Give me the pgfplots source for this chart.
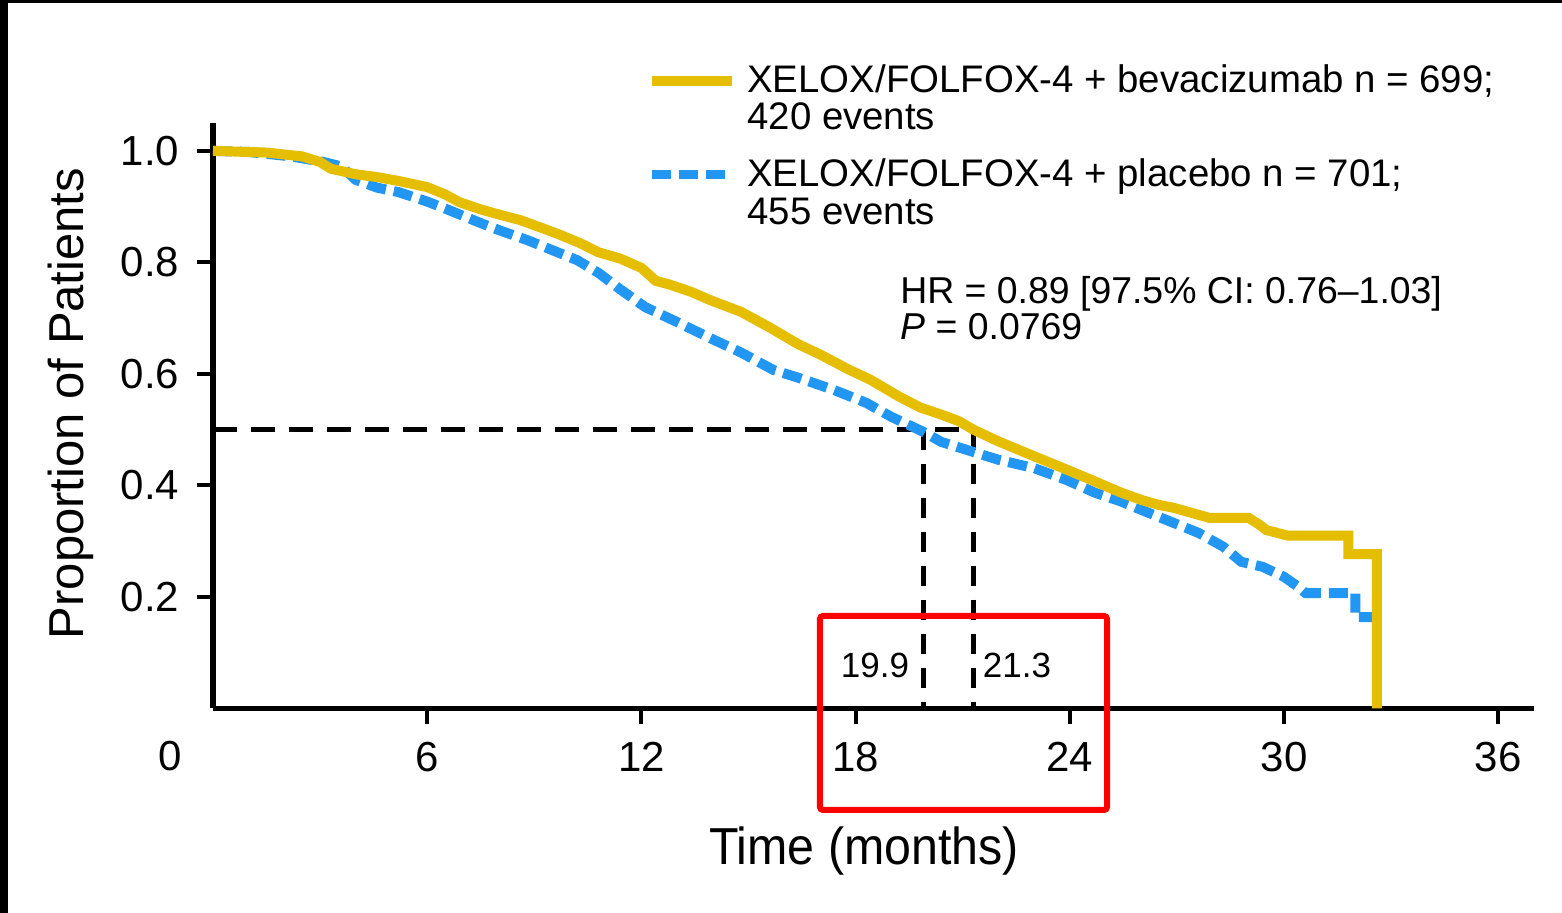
\documentclass[border=0pt]{standalone}
\usepackage{pgfplots}
\pgfplotsset{compat=1.18}
\usepackage{fontspec}
\setmainfont{Liberation Sans}
\newfontfamily\condfont[FakeStretch=0.93]{Liberation Sans}
\definecolor{kmyellow}{RGB}{230,190,0}
\definecolor{kmblue}{RGB}{33,150,243}
\begin{document}
\begin{tikzpicture}
\path[use as bounding box] (0,0) rectangle (781pt,456.5pt);
\fill[white] (0,0) rectangle (781pt,456.5pt);
\fill[black] (0,455pt) rectangle (781pt,456.5pt);
\fill[black] (0,0) rectangle (4pt,456.5pt);
\begin{axis}[
  at={(106.5pt,102.25pt)}, anchor=south west,
  scale only axis, width=660.5pt, height=292.75pt,
  xmin=0, xmax=37, ymin=0, ymax=1.05,
  axis x line*=bottom, axis y line*=left,
  axis line style={line width=2.6pt, black},
  xtick={6,12,18,24,30,36}, xticklabels={6,12,18,24,30,36},
  ytick={0.2,0.4,0.6,0.8,1.0}, yticklabels={0.2,0.4,0.6,0.8,1.0},
  tick align=outside, major tick length=8pt,
  tick style={line width=2pt, black},
  xticklabel style={font=\fontsize{21}{25}\selectfont, inner sep=0pt, anchor=north, yshift=-8.75pt},
  yticklabel style={font=\fontsize{21}{25}\selectfont, inner sep=0pt, anchor=east, xshift=-8.75pt},
  xlabel={Time (months)},
  xlabel style={font=\condfont\fontsize{26}{30}\selectfont, at={(axis description cs:0.4928,-0.2673)}, anchor=base, inner sep=0pt},
  ylabel={Proportion of Patients},
  ylabel style={font=\fontsize{24.5}{28}\selectfont, at={(axis description cs:-0.0984,0.521)}, anchor=base, inner sep=0pt},
  clip=false,
]
% median lines
\addplot[black, line width=2.6pt, dash pattern=on 12pt off 7pt] coordinates {(0,0.5) (21.3,0.5)};
\addplot[black, line width=2.6pt, dash pattern=on 10pt off 7pt] coordinates {(19.9,0.5) (19.9,0)};
\addplot[black, line width=2.6pt, dash pattern=on 10pt off 7pt] coordinates {(21.3,0.5) (21.3,0)};
% placebo
\addplot[kmblue, line width=5pt, dash pattern=on 9.5pt off 4pt] coordinates {
(0,1.0) (1,0.998) (2.2,0.99) (3.1,0.98) (3.6,0.972) (4.0,0.948) (4.6,0.934) (5.2,0.926)
(6,0.909) (6.6,0.894) (7.4,0.873) (8,0.858) (8.8,0.84) (9.5,0.822) (10.2,0.804) (10.8,0.781)
(11.4,0.752) (12.1,0.72) (13,0.693) (13.9,0.665) (14.8,0.638) (15.7,0.607) (16.4,0.593)
(17.4,0.571) (18.3,0.548) (19.0,0.523) (19.9,0.496) (20.4,0.478) (21.1,0.464) (22,0.446)
(23,0.431) (23.9,0.41) (24.7,0.387) (25.4,0.372) (26.2,0.351) (26.9,0.333) (27.6,0.315)
(28.3,0.29) (28.8,0.263) (29.4,0.254) (30,0.236) (30.4,0.218) (30.6,0.207) (32.0,0.207)
(32.0,0.164) (32.8,0.164)};
% bevacizumab
\addplot[kmyellow, line width=5pt] coordinates {
(0,1.0) (1.5,0.997) (2.5,0.99) (3,0.98) (3.3,0.968) (4,0.958) (4.6,0.953) (5.2,0.946)
(6,0.935) (6.5,0.922) (6.9,0.908) (7.5,0.895) (8,0.886) (8.6,0.876) (9.2,0.862) (9.7,0.85)
(10.3,0.834) (10.8,0.818) (11.4,0.807) (12,0.79) (12.4,0.767) (12.8,0.76) (13.4,0.747)
(13.9,0.733) (14.8,0.711) (15.6,0.683) (16.4,0.653) (17,0.635) (17.8,0.608) (18.4,0.59)
(19.2,0.56) (19.8,0.54) (20.4,0.527) (20.9,0.515) (21.3,0.5) (22,0.479) (22.9,0.455)
(23.7,0.434) (24.6,0.41) (25.4,0.388) (26,0.374) (26.5,0.365) (26.9,0.36) (27.4,0.351)
(27.9,0.342) (29.0,0.342) (29.3,0.33) (29.5,0.32) (30.1,0.31) (31.8,0.31) (31.8,0.277)
(32.6,0.277) (32.6,0)};
% zero label
\node[anchor=base, inner sep=0pt, font=\fontsize{21}{25}\selectfont] at (axis cs:0,0) [xshift=-21.5pt, yshift=-31.25pt] {0};
% median labels
\node[font=\fontsize{17.5}{21}\selectfont, inner sep=0pt] at (axis cs:18.54,0.078) {19.9};
\node[font=\fontsize{17.5}{21}\selectfont, inner sep=0pt] at (axis cs:22.52,0.078) {21.3};
% highlight box
\draw[red, line width=3pt, rounded corners=1.5pt] (axis cs:17.0,0.166) rectangle (axis cs:25.04,-0.182);
% legend
\draw[kmyellow, line width=5pt] (axis description cs:0.3323,1.0717) -- (axis description cs:0.3929,1.0717);
\draw[kmblue, line width=4.5pt, dash pattern=on 9.5pt off 4pt] (axis description cs:0.3323,0.9112) -- (axis description cs:0.3929,0.9112);
\node[anchor=base west, inner sep=0pt, font=\fontsize{19.2}{22}\selectfont] at (axis description cs:0.4042,1.0514) {XELOX/FOLFOX-4 + bevacizumab n = 699;};
\node[anchor=base west, inner sep=0pt, font=\fontsize{19.2}{22}\selectfont] at (axis description cs:0.4042,0.9881) {420 events};
\node[anchor=base west, inner sep=0pt, font=\fontsize{19.2}{22}\selectfont] at (axis description cs:0.4042,0.8907) {XELOX/FOLFOX-4 + placebo n = 701;};
\node[anchor=base west, inner sep=0pt, font=\fontsize{19.2}{22}\selectfont] at (axis description cs:0.4042,0.8258) {455 events};
% stats
\node[anchor=base west, inner sep=0pt, font=\fontsize{18.7}{22}\selectfont] at (axis description cs:0.5200,0.6925) {HR = 0.89 [97.5\% CI: 0.76--1.03]};
\node[anchor=base west, inner sep=0pt, font=\fontsize{18.7}{22}\selectfont] at (axis description cs:0.5200,0.6294) {\textit{P} = 0.0769};
\end{axis}
\end{tikzpicture}
\end{document}
